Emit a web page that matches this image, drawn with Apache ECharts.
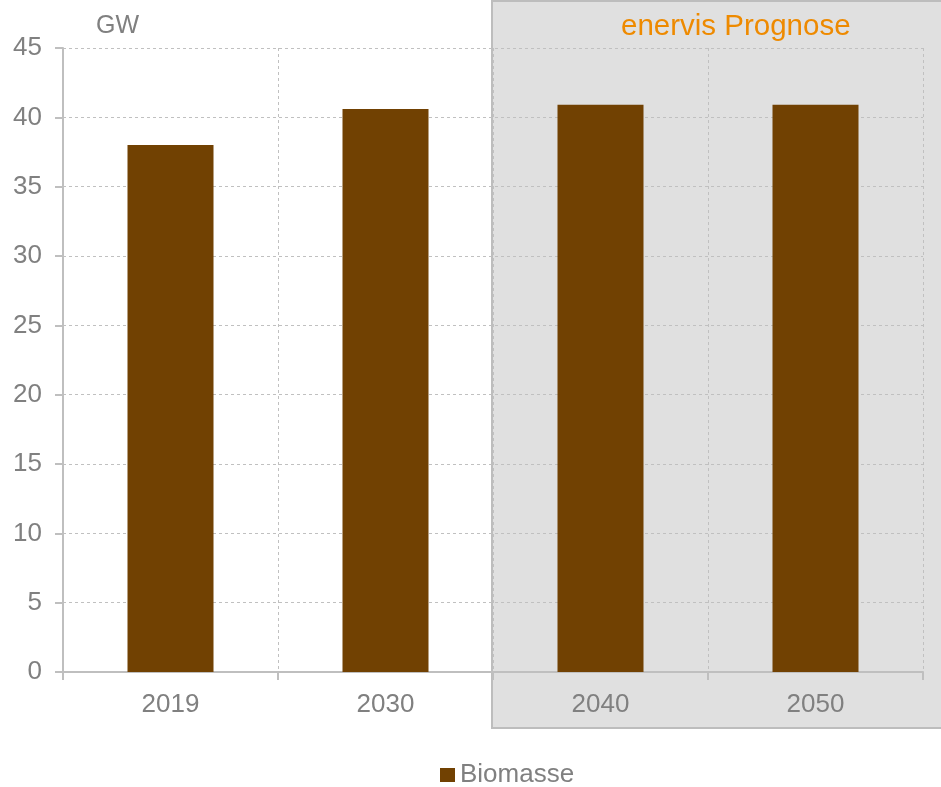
<!DOCTYPE html>
<html>
<head>
<meta charset="utf-8">
<script src="https://cdn.jsdelivr.net/npm/echarts@6/dist/echarts.min.js"></script>
<style>
html,body{margin:0;padding:0;background:#fff;}
#chart{width:941px;height:787px;}
</style>
</head>
<body>
<div id="chart"></div>
<script>
const categories = ['2019', '2030', '2040', '2050'];
const biomasse = [38.0, 40.6, 40.9, 40.9];
const yTicks = [0, 5, 10, 15, 20, 25, 30, 35, 40, 45];
const seriesName = 'Biomasse';
const unitLabel = 'GW';
const forecastLabel = 'enervis Prognose';

const FONT = '"Liberation Sans", Arial, sans-serif';
const GRAY = '#808080';
const chart = echarts.init(document.getElementById('chart'));
chart.setOption({
  animation: false,
  textStyle: { fontFamily: FONT },
  title: [
    { text: unitLabel, left: 91, top: 9, textStyle: { fontFamily: FONT, fontSize: 25, fontWeight: 'normal', color: GRAY } },
    { text: forecastLabel, left: 616, top: 7, textStyle: { fontFamily: FONT, fontSize: 29.5, fontWeight: 'normal', color: '#EE8A00' } }
  ],
  graphic: [
    { type: 'rect', z: -10, zlevel: 0, silent: true,
      shape: { x: 492, y: 1, width: 460, height: 727 },
      style: { fill: '#E0E0E0', stroke: '#BDBDBD', lineWidth: 2 } }
  ],
  grid: { left: 63, right: 18, top: 48, bottom: 115, containLabel: false },
  legend: {
    data: [seriesName], left: 435, top: 757, itemWidth: 15, itemHeight: 14, itemGap: 6,
    icon: 'rect',
    textStyle: { fontFamily: FONT, fontSize: 26, color: GRAY }
  },
  xAxis: {
    type: 'category', data: categories,
    axisLine: { lineStyle: { color: '#BFBFBF', width: 2 } },
    axisTick: { show: true, length: 8, lineStyle: { color: '#BFBFBF', width: 2 } },
    axisLabel: { fontFamily: FONT, fontSize: 26, color: GRAY, margin: 20 },
    splitLine: { show: true, lineStyle: { color: '#C0C0C0', type: [3, 3], width: 1 } }
  },
  yAxis: {
    type: 'value', min: 0, max: 45, interval: 5,
    axisLine: { show: true, lineStyle: { color: '#BFBFBF', width: 2 } },
    axisTick: { show: true, length: 8, lineStyle: { color: '#BFBFBF', width: 2 } },
    axisLabel: { fontFamily: FONT, fontSize: 26, color: GRAY, margin: 21,
      formatter: v => yTicks.includes(v) ? String(v) : '' },
    splitLine: { show: true, lineStyle: { color: '#C0C0C0', type: [3, 3], width: 1 } }
  },
  series: [{
    name: seriesName, type: 'bar', data: biomasse, barWidth: 86,
    itemStyle: { color: '#714102' }
  }]
});
</script>
</body>
</html>
